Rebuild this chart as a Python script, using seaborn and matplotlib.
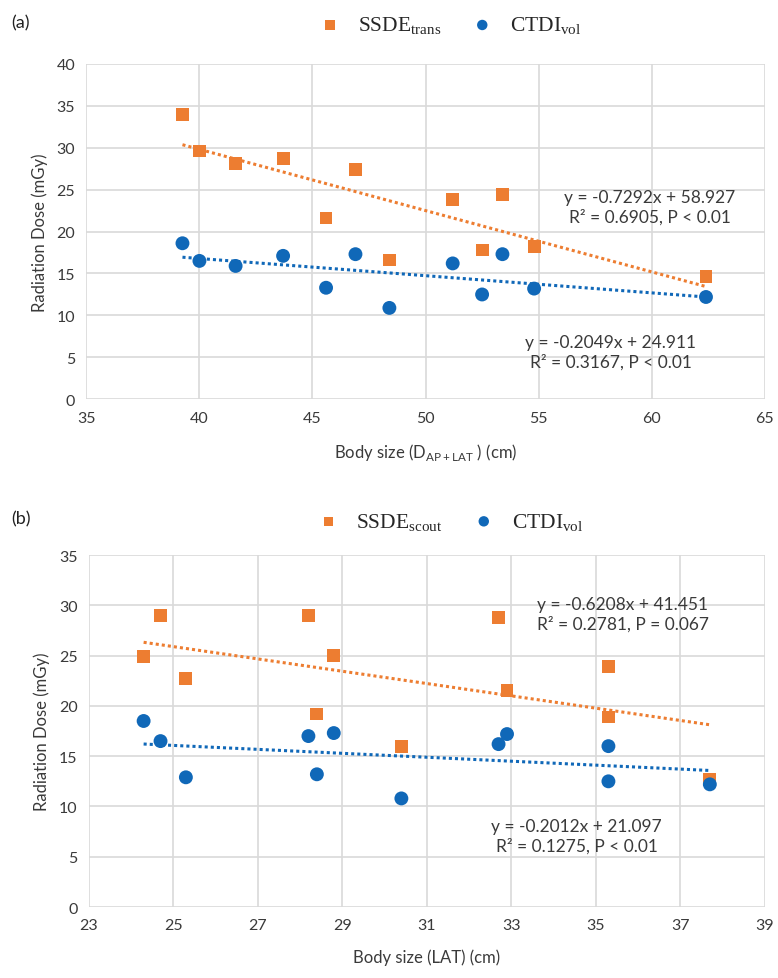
import matplotlib as mpl
mpl.use('Agg')
import matplotlib.pyplot as plt
import seaborn as sns
import pandas as pd

# panel (a): body size D_AP+LAT vs dose
size_a = [39.25, 40.0, 41.6, 43.7, 45.6, 46.9, 48.4, 51.2, 52.5, 53.4, 54.8, 62.4]
ssde_trans = [33.9, 29.6, 28.1, 28.7, 21.6, 27.4, 16.6, 23.8, 17.8, 24.4, 18.2, 14.6]
ctdi_a = [18.6, 16.5, 15.9, 17.1, 13.3, 17.3, 10.9, 16.2, 12.5, 17.3, 13.2, 12.2]

# panel (b): body size LAT vs dose
size_b = [24.3, 24.7, 25.3, 28.2, 28.4, 28.8, 30.4, 32.7, 32.9, 35.3, 35.3, 37.7]
ssde_scout = [24.9, 29.0, 22.7, 29.0, 19.2, 25.0, 16.0, 28.8, 21.5, 23.9, 18.9, 12.7]
ctdi_b = [18.5, 16.5, 12.9, 17.0, 13.2, 17.3, 10.8, 16.2, 17.2, 16.0, 12.5, 12.2]

fit_text_a = ["y = -0.7292x + 58.927\nR² = 0.6905, P < 0.01",
              "y = -0.2049x + 24.911\nR² = 0.3167, P < 0.01"]
fit_text_b = ["y = -0.6208x + 41.451\nR² = 0.2781, P = 0.067",
              "y = -0.2012x + 21.097\nR² = 0.1275, P < 0.01"]

ORANGE = '#ED7D31'
BLUE = '#1068B8'
GRID = '#d9d9d9'
TXT = '#3a3a3a'

sns.set_theme(style='white')
plt.rcParams['font.family'] = ['Lato', 'DejaVu Sans']
plt.rcParams['mathtext.fontset'] = 'custom'
plt.rcParams['mathtext.rm'] = 'Lato'


def draw_panel(ax, x, y1, y2, xlabel, ssde_label, texts, text_pos, xlim, xticks, ylim, yticks):
    df = pd.DataFrame({'size': x, 'ssde': y1, 'ctdi': y2})
    line_kws = dict(ls=(0, (1, 1)), lw=2.2)
    sns.regplot(data=df, x='size', y='ssde', ax=ax, scatter=False, ci=None,
                color=ORANGE, line_kws=line_kws)
    sns.regplot(data=df, x='size', y='ctdi', ax=ax, scatter=False, ci=None,
                color=BLUE, line_kws=line_kws)
    sns.scatterplot(data=df, x='size', y='ssde', ax=ax, marker='s', s=85,
                    color=ORANGE, edgecolor='none', label=ssde_label, zorder=3)
    sns.scatterplot(data=df, x='size', y='ctdi', ax=ax, marker='o', s=100,
                    color=BLUE, edgecolor='none', label='CTDI$_{\\mathregular{vol}}$', zorder=3)
    ax.set_xlim(*xlim)
    ax.set_ylim(*ylim)
    ax.set_xticks(xticks)
    ax.set_yticks(yticks)
    ax.grid(True, color=GRID, lw=1.2)
    ax.set_axisbelow(True)
    for s in ax.spines.values():
        s.set_visible(False)
    ax.tick_params(axis='both', length=0, labelsize=11.5, colors=TXT, pad=8)
    ax.set_xlabel(xlabel, fontsize=12, color=TXT, labelpad=12)
    ax.set_ylabel('Radiation Dose (mGy)', fontsize=12, color=TXT, labelpad=6)
    for t, (tx, ty) in zip(texts, text_pos):
        ax.text(tx, ty, t, ha='center', va='center', fontsize=12.5, color=TXT,
                linespacing=1.25, transform=ax.transAxes)


fig = plt.figure(figsize=(7.78, 9.79), dpi=100)
ax_a = fig.add_axes([0.111, 0.591, 0.872, 0.343])
ax_b = fig.add_axes([0.114, 0.0725, 0.869, 0.3595])

draw_panel(ax_a, size_a, ssde_trans, ctdi_a,
           'Body size (D$_{\\mathregular{AP+LAT}}$ ) (cm)',
           'SSDE$_{\\mathregular{trans}}$', fit_text_a,
           [(0.831, 0.574), (0.773, 0.141)],
           (35, 65), range(35, 66, 5), (0, 40), range(0, 41, 5))
draw_panel(ax_b, size_b, ssde_scout, ctdi_b,
           'Body size (LAT) (cm)',
           'SSDE$_{\\mathregular{scout}}$', fit_text_b,
           [(0.79, 0.832), (0.722, 0.202)],
           (23, 39), range(23, 40, 2), (0, 35), range(0, 36, 5))

for ax, lab, ly in [(ax_a, '(a)', 0.976), (ax_b, '(b)', 0.469)]:
    h, l = ax.get_legend_handles_labels()
    ax.legend_.remove()
    fig.legend(h, l, loc='center', bbox_to_anchor=(0.572, ly - 0.003), ncol=2, frameon=False,
               prop={'family': 'Liberation Serif', 'size': 15.5}, handletextpad=0.3,
               columnspacing=0.9, markerscale=0.75)
    fig.text(0.015, ly, lab, fontsize=13, color='#222222', va='center')

fig.savefig('out.png', dpi=100)
